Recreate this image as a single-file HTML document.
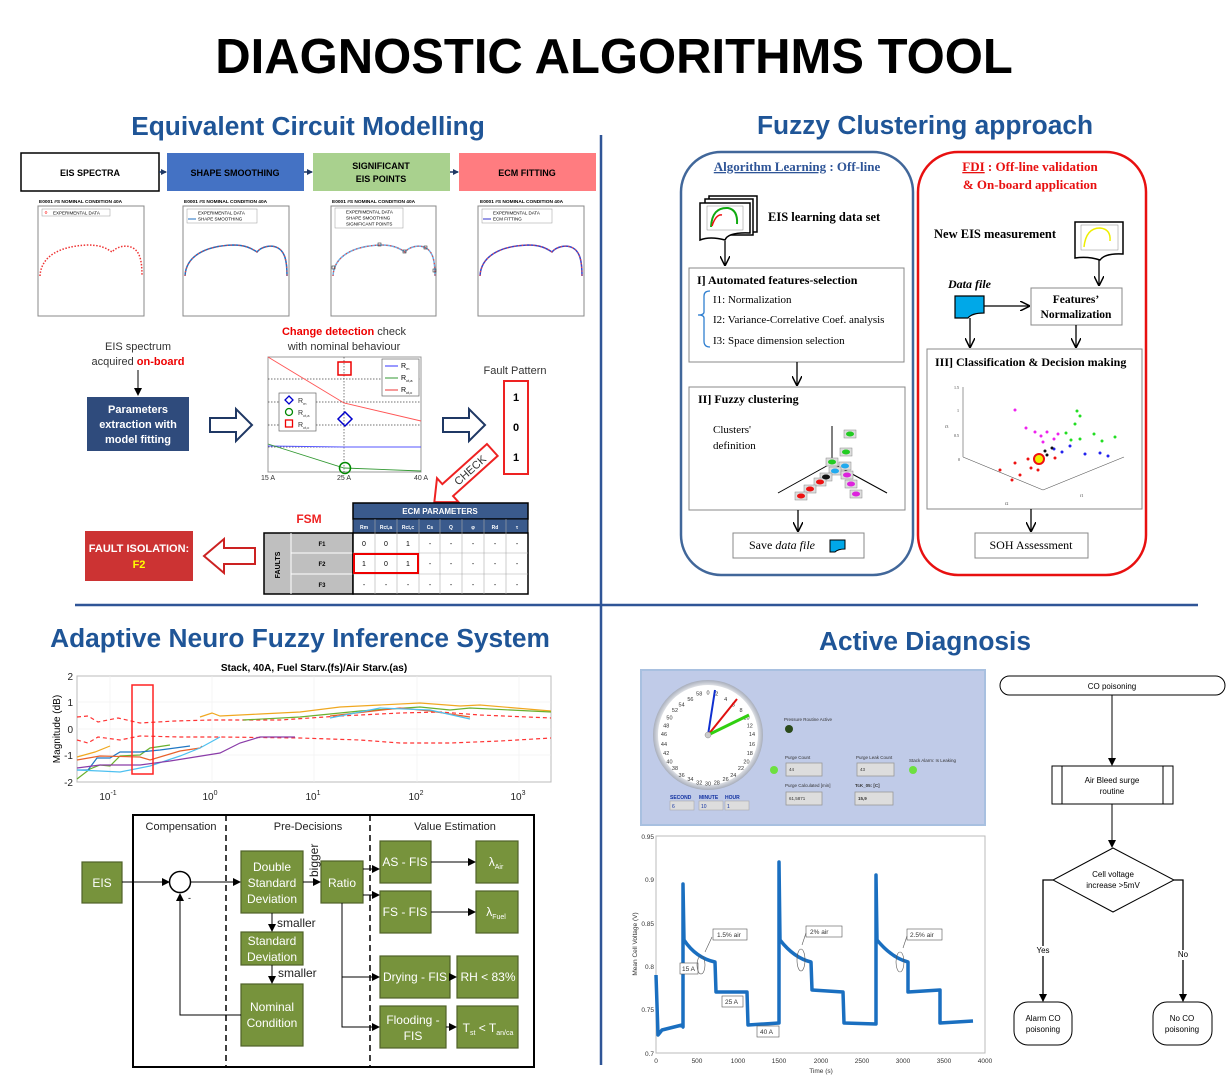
<!DOCTYPE html>
<html><head><meta charset="utf-8"><style>
html,body{margin:0;padding:0;background:#fff;}
svg{display:block;font-family:"Liberation Sans",sans-serif;}
.ser{font-family:"Liberation Serif",serif;}
</style></head><body>
<svg width="1228" height="1083" viewBox="0 0 1228 1083" xmlns="http://www.w3.org/2000/svg">
<defs>
<marker id="ar" markerWidth="8" markerHeight="8" refX="7" refY="4" orient="auto" markerUnits="userSpaceOnUse"><path d="M0,0 L8,4 L0,8 z" fill="#000"/></marker>
<marker id="ar2" markerWidth="10" markerHeight="10" refX="9" refY="5" orient="auto" markerUnits="userSpaceOnUse"><path d="M0,0 L10,5 L0,10" fill="none" stroke="#000" stroke-width="1.5"/></marker>
<marker id="arb" markerWidth="6" markerHeight="6" refX="5" refY="3" orient="auto" markerUnits="userSpaceOnUse"><path d="M0,0 L6,3 L0,6 z" fill="#1f3864"/></marker>
<radialGradient id="cg" cx="0.5" cy="0.5" r="0.5"><stop offset="0.85" stop-color="#fff"/><stop offset="1" stop-color="#a8aebb"/></radialGradient>
</defs>

<!-- Title -->
<text x="614" y="73" text-anchor="middle" font-size="49" font-weight="bold">DIAGNOSTIC ALGORITHMS TOOL</text>
<text x="308" y="135" text-anchor="middle" font-size="26.3" font-weight="bold" fill="#1f5597">Equivalent Circuit Modelling</text>
<text x="925" y="134" text-anchor="middle" font-size="26.3" font-weight="bold" fill="#1f5597">Fuzzy Clustering approach</text>
<text x="300" y="647" text-anchor="middle" font-size="26.3" font-weight="bold" fill="#1f5597">Adaptive Neuro Fuzzy Inference System</text>
<text x="925" y="650" text-anchor="middle" font-size="26.3" font-weight="bold" fill="#1f5597">Active Diagnosis</text>

<line x1="601" y1="135" x2="601" y2="1065" stroke="#2f5597" stroke-width="2.5"/>
<line x1="75" y1="605" x2="1198" y2="605" stroke="#2f5597" stroke-width="2.5"/>

<!-- ECM top row -->
<rect x="21" y="153" width="138" height="38" fill="#fff" stroke="#000" stroke-width="1.5"/>
<text x="90" y="176" text-anchor="middle" font-size="9" font-weight="bold">EIS SPECTRA</text>
<rect x="167" y="153" width="137" height="38" fill="#4472c4"/>
<text x="235" y="176" text-anchor="middle" font-size="9" font-weight="bold">SHAPE SMOOTHING</text>
<rect x="313" y="153" width="137" height="38" fill="#a9d18e"/>
<text x="381" y="169" text-anchor="middle" font-size="9" font-weight="bold">SIGNIFICANT</text>
<text x="381" y="182" text-anchor="middle" font-size="9" font-weight="bold">EIS POINTS</text>
<rect x="459" y="153" width="137" height="38" fill="#ff7c80"/>
<text x="527" y="176" text-anchor="middle" font-size="9" font-weight="bold">ECM FITTING</text>
<line x1="159" y1="172" x2="166" y2="172" stroke="#1f3864" stroke-width="1.5" marker-end="url(#arb)"/>
<line x1="304" y1="172" x2="312" y2="172" stroke="#1f3864" stroke-width="1.5" marker-end="url(#arb)"/>
<line x1="450" y1="172" x2="458" y2="172" stroke="#1f3864" stroke-width="1.5" marker-end="url(#arb)"/>

<!-- small plots -->
<g font-size="4.8" font-weight="bold">
<text x="39" y="203">E0001 #S NOMINAL CONDITION 40A</text>
<text x="184" y="203">E0001 #S NOMINAL CONDITION 40A</text>
<text x="332" y="203">E0001 #S NOMINAL CONDITION 40A</text>
<text x="480" y="203">E0001 #S NOMINAL CONDITION 40A</text>
</g>
<g transform="translate(38,206)">
<rect width="106" height="110" fill="#fff" stroke="#888"/>
<rect x="4" y="3" width="68" height="7" fill="#fff" stroke="#999" stroke-width="0.5"/><text x="15" y="8.5" font-size="4.5">EXPERIMENTAL DATA</text><circle cx="8" cy="6.5" r="1" fill="none" stroke="red" stroke-width="0.5"/>
<path d="M2,70 C3,50 22,40 50,39 C62,39 68,42 74,46 C78,41 88,38 95,42 C102,46 104,55 104,70" fill="none" stroke="#e33" stroke-width="1.5" stroke-dasharray="1.5 1.6"/>
</g>
<g transform="translate(183,206)">
<rect width="106" height="110" fill="#fff" stroke="#888"/>
<rect x="4" y="3" width="70" height="14" fill="#fff" stroke="#999" stroke-width="0.5"/><text x="15" y="8.5" font-size="4.5">EXPERIMENTAL DATA</text><text x="15" y="14.5" font-size="4.5">SHAPE SMOOTHING</text><line x1="5" y1="13" x2="13" y2="13" stroke="#1f6fc0"/>
<path d="M2,70 C3,50 22,40 50,39 C62,39 68,42 74,46 C78,41 88,38 95,42 C102,46 104,55 104,70" fill="none" stroke="#1f6fc0" stroke-width="1.5"/>
<path d="M2,70 C3,50 22,40 50,39 C62,39 68,42 74,46 C78,41 88,38 95,42 C102,46 104,55 104,70" fill="none" stroke="#e44" stroke-width="1.2" stroke-dasharray="1.3 2.5"/>
</g>
<g transform="translate(331,206)">
<rect width="105" height="110" fill="#fff" stroke="#888"/>
<rect x="4" y="2" width="68" height="20" fill="#fff" stroke="#999" stroke-width="0.5"/><text x="15" y="7.5" font-size="4.5">EXPERIMENTAL DATA</text><text x="15" y="13.5" font-size="4.5">SHAPE SMOOTHING</text><text x="15" y="19.5" font-size="4.5">SIGNIFICANT POINTS</text>
<path d="M2,70 C3,50 22,40 50,39 C62,39 68,42 74,46 C78,41 88,38 95,42 C102,46 104,55 104,70" fill="none" stroke="#6ab0e8" stroke-width="1.5"/>
<path d="M2,70 C3,50 22,40 50,39 C62,39 68,42 74,46 C78,41 88,38 95,42 C102,46 104,55 104,70" fill="none" stroke="#e44" stroke-width="1.2" stroke-dasharray="1.3 2.5"/>
<g fill="none" stroke="#333" stroke-width="0.6"><rect x="1" y="60" width="3" height="3"/><rect x="47" y="37" width="3" height="3"/><rect x="72" y="44" width="3" height="3"/><rect x="93" y="40" width="3" height="3"/><rect x="102" y="63" width="3" height="3"/></g>
</g>
<g transform="translate(478,206)">
<rect width="106" height="110" fill="#fff" stroke="#888"/>
<rect x="4" y="3" width="70" height="14" fill="#fff" stroke="#999" stroke-width="0.5"/><text x="15" y="8.5" font-size="4.5">EXPERIMENTAL DATA</text><text x="15" y="14.5" font-size="4.5">ECM FITTING</text><line x1="5" y1="13" x2="13" y2="13" stroke="#33c"/>
<path d="M2,70 C3,50 22,40 50,39 C62,39 68,42 74,46 C78,41 88,38 95,42 C102,46 104,55 104,70" fill="none" stroke="#3344cc" stroke-width="1.5"/>
<path d="M2,70 C3,50 22,40 50,39 C62,39 68,42 74,46 C78,41 88,38 95,42 C102,46 104,55 104,70" fill="none" stroke="#e44" stroke-width="1.2" stroke-dasharray="1.3 2.5"/>
</g>

<!-- middle ECM -->
<text x="138" y="350" text-anchor="middle" font-size="11" fill="#333">EIS spectrum</text>
<text x="138" y="365" text-anchor="middle" font-size="11" fill="#333">acquired <tspan fill="#e00" font-weight="bold">on-board</tspan></text>
<line x1="138" y1="370" x2="138" y2="395" stroke="#000" marker-end="url(#ar)"/>
<rect x="87" y="397" width="102" height="54" fill="#2f4b7c"/>
<text x="138" y="413" text-anchor="middle" font-size="11" font-weight="bold" fill="#fff">Parameters</text>
<text x="138" y="428" text-anchor="middle" font-size="11" font-weight="bold" fill="#fff">extraction with</text>
<text x="138" y="443" text-anchor="middle" font-size="11" font-weight="bold" fill="#fff">model fitting</text>
<path d="M210,418 L236,418 L236,409 L252,425 L236,441 L236,432 L210,432 Z" fill="#fff" stroke="#1f3864" stroke-width="2"/>
<path d="M443,418 L469,418 L469,409 L485,425 L469,441 L469,432 L443,432 Z" fill="#fff" stroke="#1f3864" stroke-width="2"/>

<text x="344" y="335" text-anchor="middle" font-size="11"><tspan fill="#e00" font-weight="bold">Change detection</tspan> <tspan fill="#333">check</tspan></text>
<text x="344" y="350" text-anchor="middle" font-size="11" fill="#333">with nominal behaviour</text>
<rect x="268" y="357" width="153" height="115" fill="#fff" stroke="#999"/>
<g stroke="#444" stroke-dasharray="1.5 1.5" stroke-width="0.7"><line x1="268" y1="379" x2="421" y2="379"/><line x1="268" y1="402" x2="421" y2="402"/><line x1="268" y1="425" x2="421" y2="425"/><line x1="268" y1="447" x2="421" y2="447"/><line x1="344" y1="357" x2="344" y2="472"/></g>
<polyline points="268,357 344,403 421,421" fill="none" stroke="#f55" stroke-width="0.9"/>
<polyline points="268,446 344,447 421,447" fill="none" stroke="#55f" stroke-width="0.9"/>
<polyline points="268,444 344,468 421,471" fill="none" stroke="#393" stroke-width="0.9"/>
<rect x="338" y="362" width="13" height="13" fill="none" stroke="#e00" stroke-width="1.5"/>
<path d="M345,412 L352,419 L345,426 L338,419 Z" fill="none" stroke="#00c" stroke-width="1.5"/>
<circle cx="345" cy="468" r="5.5" fill="none" stroke="#080" stroke-width="1.5"/>
<rect x="382" y="359" width="37" height="37" fill="#fff" stroke="#666" stroke-width="0.7"/>
<g font-size="7"><line x1="385" y1="366" x2="398" y2="366" stroke="#33f"/><text x="401" y="368">R<tspan font-size="4" dy="2">m</tspan></text>
<line x1="385" y1="378" x2="398" y2="378" stroke="#393"/><text x="401" y="380">R<tspan font-size="4" dy="2">ct,a</tspan></text>
<line x1="385" y1="390" x2="398" y2="390" stroke="#e33"/><text x="401" y="392">R<tspan font-size="4" dy="2">ct,c</tspan></text></g>
<rect x="279" y="393" width="37" height="38" fill="#fff" stroke="#666" stroke-width="0.7"/>
<path d="M289,396 L293,400 L289,404 L285,400 Z" fill="none" stroke="#00c" stroke-width="1.3"/>
<circle cx="289" cy="412" r="3.5" fill="none" stroke="#080" stroke-width="1.3"/>
<rect x="285.5" y="420" width="7" height="7" fill="none" stroke="#e00" stroke-width="1.3"/>
<g font-size="7" fill="#333"><text x="298" y="403">R<tspan font-size="4" dy="2">m</tspan></text><text x="298" y="415">R<tspan font-size="4" dy="2">ct,a</tspan></text><text x="298" y="427">R<tspan font-size="4" dy="2">ct,c</tspan></text></g>
<g font-size="7" fill="#333" text-anchor="middle"><text x="268" y="480">15 A</text><text x="344" y="480">25 A</text><text x="421" y="480">40 A</text></g>

<text x="515" y="374" text-anchor="middle" font-size="11" fill="#333">Fault Pattern</text>
<rect x="504" y="381" width="24" height="93" fill="#fff" stroke="#e22" stroke-width="2"/>
<g font-size="11" font-weight="bold" text-anchor="middle"><text x="516" y="401">1</text><text x="516" y="431">0</text><text x="516" y="461">1</text></g>
<g transform="translate(470,470) rotate(-42)">
<path d="M-30,-8 L30,-8 L30,8 L-30,8 L-30,16 L-48,0 L-30,-16 Z" fill="#fff" stroke="#e22" stroke-width="2"/>
<text x="0" y="4" text-anchor="middle" font-size="11" fill="#333">CHECK</text>
</g>

<!-- FSM table -->
<text x="309" y="523" font-size="12" font-weight="bold" fill="#e22" text-anchor="middle">FSM</text>
<rect x="353" y="503" width="175" height="16" fill="#3a5a8c" stroke="#000" stroke-width="1.5"/>
<text x="440" y="514" text-anchor="middle" font-size="8" font-weight="bold" fill="#fff">ECM PARAMETERS</text>
<rect x="353" y="519" width="175" height="14" fill="#3a5a8c" stroke="#000"/>
<rect x="264" y="533" width="89" height="61" fill="#bfbfbf" stroke="#000" stroke-width="1.5"/>
<line x1="291" y1="533" x2="291" y2="594" stroke="#fff"/>
<line x1="291" y1="553" x2="353" y2="553" stroke="#fff"/><line x1="291" y1="574" x2="353" y2="574" stroke="#fff"/>
<text transform="translate(280,565) rotate(-90)" text-anchor="middle" font-size="7" font-weight="bold">FAULTS</text>
<g font-size="6" font-weight="bold" text-anchor="middle"><text x="322" y="546">F1</text><text x="322" y="566">F2</text><text x="322" y="587">F3</text></g>
<rect x="353" y="533" width="175" height="61" fill="#fff" stroke="#000" stroke-width="1.5"/>
<g stroke="#aaa" stroke-width="0.6"><line x1="353" y1="553" x2="528" y2="553"/><line x1="353" y1="574" x2="528" y2="574"/>
<line x1="375" y1="519" x2="375" y2="594"/><line x1="397" y1="519" x2="397" y2="594"/><line x1="419" y1="519" x2="419" y2="594"/><line x1="440" y1="519" x2="440" y2="594"/><line x1="462" y1="519" x2="462" y2="594"/><line x1="484" y1="519" x2="484" y2="594"/><line x1="506" y1="519" x2="506" y2="594"/></g>
<g font-size="5" fill="#fff" font-weight="bold" text-anchor="middle"><text x="364" y="529">Rm</text><text x="386" y="529">Rct,a</text><text x="408" y="529">Rct,c</text><text x="430" y="529">Cs</text><text x="451" y="529">Q</text><text x="473" y="529">φ</text><text x="495" y="529">Rd</text><text x="517" y="529">τ</text></g>
<g font-size="7" text-anchor="middle">
<text x="364" y="546">0</text><text x="386" y="546">0</text><text x="408" y="546">1</text><text x="430" y="546">-</text><text x="451" y="546">-</text><text x="473" y="546">-</text><text x="495" y="546">-</text><text x="517" y="546">-</text>
<text x="364" y="566">1</text><text x="386" y="566">0</text><text x="408" y="566">1</text><text x="430" y="566">-</text><text x="451" y="566">-</text><text x="473" y="566">-</text><text x="495" y="566">-</text><text x="517" y="566">-</text>
<text x="364" y="587">-</text><text x="386" y="587">-</text><text x="408" y="587">-</text><text x="430" y="587">-</text><text x="451" y="587">-</text><text x="473" y="587">-</text><text x="495" y="587">-</text><text x="517" y="587">-</text></g>
<rect x="354" y="554" width="64" height="19" fill="none" stroke="#e00" stroke-width="2"/>
<rect x="85" y="531" width="108" height="50" fill="#cc3333"/>
<text x="139" y="552" text-anchor="middle" font-size="11" font-weight="bold" fill="#fff">FAULT ISOLATION:</text>
<text x="139" y="568" text-anchor="middle" font-size="11" font-weight="bold" fill="#ff0">F2</text>
<path d="M255,548 L224,548 L224,539 L204,556 L224,573 L224,564 L255,564 Z" fill="#fff" stroke="#c22" stroke-width="2"/>

<!-- Fuzzy panels -->
<g class="ser">
<rect x="681" y="152" width="232" height="423" rx="40" fill="#fff" stroke="#41679a" stroke-width="2.5"/>
<rect x="918" y="152" width="228" height="423" rx="40" fill="#fff" stroke="#e81010" stroke-width="2.5"/>
<text x="797" y="171" text-anchor="middle" font-size="13" font-weight="bold" fill="#2f5597"><tspan text-decoration="underline">Algorithm Learning</tspan> : Off-line</text>
<text x="1030" y="171" text-anchor="middle" font-size="13" font-weight="bold" fill="#e81010"><tspan text-decoration="underline">FDI</tspan> : Off-line validation</text>
<text x="1030" y="189" text-anchor="middle" font-size="13" font-weight="bold" fill="#e81010">&amp; On-board application</text>
<rect x="709" y="196" width="48" height="36" fill="#fff" stroke="#000" stroke-width="1.5"/>
<rect x="705" y="199" width="48" height="36" fill="#fff" stroke="#000" stroke-width="1.5"/>
<path d="M700,203 L750,203 L750,233 Q728,232 725,240 Q710,236 700,240 Z" fill="#fff" stroke="#000" stroke-width="1.5"/>
<rect x="707" y="206" width="36" height="24" fill="#fff" stroke="#888" stroke-width="0.5"/>
<path d="M711,227 Q712,207 728,208 Q738,210 737,224" fill="none" stroke="#1a1" stroke-width="2"/>
<path d="M712,226 Q716,214 722,215" fill="none" stroke="#e11" stroke-width="1.5"/>
<text x="768" y="221" font-size="12.5" font-weight="bold">EIS learning data set</text>
<line x1="725" y1="241" x2="725" y2="265" stroke="#000" stroke-width="1.3" marker-end="url(#ar2)"/>
<rect x="689" y="268" width="215" height="94" fill="#fff" stroke="#888"/>
<text x="697" y="284" font-size="12" font-weight="bold">I] Automated features-selection</text>
<path d="M710,291 Q704,291 704,296 L704,312 Q704,315 698,315 Q704,315 704,318 L704,341 Q704,347 710,347" fill="none" stroke="#2f7fd0" stroke-width="1.3"/>
<g font-size="11"><text x="713" y="303">I1: Normalization</text><text x="713" y="323">I2: Variance-Correlative Coef. analysis</text><text x="713" y="344">I3: Space dimension selection</text></g>
<line x1="797" y1="362" x2="797" y2="385" stroke="#000" stroke-width="1.3" marker-end="url(#ar2)"/>
<rect x="689" y="387" width="216" height="123" fill="#fff" stroke="#888"/>
<text x="698" y="403" font-size="12" font-weight="bold">II] Fuzzy clustering</text>
<text x="713" y="433" font-size="11">Clusters'</text><text x="713" y="449" font-size="11">definition</text>
<line x1="832" y1="426" x2="832" y2="463" stroke="#000"/>
<line x1="778" y1="493" x2="832" y2="463" stroke="#000"/><line x1="832" y1="463" x2="887" y2="493" stroke="#000"/>
<g stroke="#888" stroke-width="0.5" fill="#ddd">
<rect x="844" y="430" width="12" height="8"/><rect x="840" y="448" width="12" height="8"/><rect x="826" y="458" width="12" height="8"/><rect x="839" y="462" width="12" height="8"/><rect x="829" y="467" width="12" height="8"/><rect x="820" y="473" width="12" height="8"/><rect x="841" y="471" width="12" height="8"/><rect x="814" y="478" width="12" height="8"/><rect x="845" y="480" width="12" height="8"/><rect x="804" y="485" width="12" height="8"/><rect x="850" y="490" width="12" height="8"/><rect x="795" y="492" width="12" height="8"/></g>
<g><ellipse cx="850" cy="434" rx="4" ry="2.5" fill="#2c2"/><ellipse cx="846" cy="452" rx="4" ry="2.5" fill="#2c2"/><ellipse cx="832" cy="462" rx="4" ry="2.5" fill="#2c2"/><ellipse cx="845" cy="466" rx="4" ry="2.5" fill="#2ae"/><ellipse cx="835" cy="471" rx="4" ry="2.5" fill="#2ae"/><ellipse cx="826" cy="477" rx="4" ry="2.5" fill="#111"/><ellipse cx="847" cy="475" rx="4" ry="2.5" fill="#d2d"/><ellipse cx="820" cy="482" rx="4" ry="2.5" fill="#e11"/><ellipse cx="851" cy="484" rx="4" ry="2.5" fill="#d2d"/><ellipse cx="810" cy="489" rx="4" ry="2.5" fill="#e11"/><ellipse cx="856" cy="494" rx="4" ry="2.5" fill="#d2d"/><ellipse cx="801" cy="496" rx="4" ry="2.5" fill="#e11"/></g>
<line x1="798" y1="510" x2="798" y2="531" stroke="#000" stroke-width="1.3" marker-end="url(#ar2)"/>
<rect x="733" y="533" width="131" height="25" fill="#fff" stroke="#888"/>
<text x="749" y="549" font-size="12">Save <tspan font-style="italic">data file</tspan></text>
<path d="M830,540 L845,540 L845,549 Q838,549 835,552 L830,552 Z" fill="#00a8e8" stroke="#000"/>

<text x="934" y="238" font-size="12.5" font-weight="bold">New EIS measurement</text>
<path d="M1075,222 L1123,222 L1123,254 Q1105,253 1100,260 Q1088,256 1075,258 Z" fill="#fff" stroke="#000" stroke-width="1.5"/>
<rect x="1081" y="225" width="37" height="25" fill="#fff" stroke="#888" stroke-width="0.5"/>
<path d="M1084,247 Q1086,228 1100,228 Q1111,229 1110,241" fill="none" stroke="#ee0" stroke-width="1.5"/>
<line x1="1099" y1="259" x2="1099" y2="285" stroke="#000" stroke-width="1.3" marker-end="url(#ar2)"/>
<text x="948" y="288" font-size="12" font-weight="bold" font-style="italic">Data file</text>
<path d="M955,296 L984,296 L984,313 Q972,313 968,318 L955,318 Z" fill="#00a8e8" stroke="#000" stroke-width="1.2"/>
<line x1="984" y1="306" x2="1029" y2="306" stroke="#000" stroke-width="1.3" marker-end="url(#ar2)"/>
<rect x="1031" y="288" width="91" height="37" fill="#fff" stroke="#888"/>
<text x="1076" y="303" text-anchor="middle" font-size="11.5" font-weight="bold">Features’</text>
<text x="1076" y="318" text-anchor="middle" font-size="11.5" font-weight="bold">Normalization</text>
<line x1="970" y1="318" x2="970" y2="347" stroke="#000" stroke-width="1.3" marker-end="url(#ar2)"/>
<line x1="1076" y1="325" x2="1076" y2="347" stroke="#000" stroke-width="1.3" marker-end="url(#ar2)"/>
<rect x="927" y="349" width="215" height="160" fill="#fff" stroke="#888"/>
<text x="935" y="366" font-size="12" font-weight="bold">III] Classification &amp; Decision making</text>
<g stroke="#555" stroke-width="0.6" fill="none"><line x1="963" y1="387" x2="963" y2="457"/><line x1="963" y1="457" x2="1043" y2="490"/><line x1="1043" y1="490" x2="1124" y2="457"/></g>
<g font-size="4" fill="#333"><text x="954" y="389">1.5</text><text x="957" y="412">1</text><text x="954" y="437">0.5</text><text x="958" y="461">0</text><text x="945" y="428">f3</text><text x="1005" y="505">f2</text><text x="1080" y="497">f1</text></g>
<g>
<circle cx="1015" cy="410" r="1.5" fill="#e2e"/><circle cx="1026" cy="428" r="1.5" fill="#e2e"/><circle cx="1035" cy="432" r="1.5" fill="#e2e"/><circle cx="1041" cy="436" r="1.5" fill="#e2e"/><circle cx="1047" cy="432" r="1.5" fill="#e2e"/><circle cx="1054" cy="439" r="1.5" fill="#e2e"/><circle cx="1043" cy="442" r="1.5" fill="#e2e"/><circle cx="1058" cy="434" r="1.5" fill="#e2e"/>
<circle cx="1077" cy="411" r="1.5" fill="#2d2"/><circle cx="1080" cy="416" r="1.5" fill="#2d2"/><circle cx="1075" cy="424" r="1.5" fill="#2d2"/><circle cx="1066" cy="433" r="1.5" fill="#2d2"/><circle cx="1080" cy="439" r="1.5" fill="#2d2"/><circle cx="1094" cy="434" r="1.5" fill="#2d2"/><circle cx="1102" cy="441" r="1.5" fill="#2d2"/><circle cx="1115" cy="437" r="1.5" fill="#2d2"/><circle cx="1071" cy="440" r="1.5" fill="#2d2"/>
<circle cx="1054" cy="449" r="1.5" fill="#22e"/><circle cx="1062" cy="452" r="1.5" fill="#22e"/><circle cx="1070" cy="446" r="1.5" fill="#22e"/><circle cx="1085" cy="454" r="1.5" fill="#22e"/><circle cx="1100" cy="453" r="1.5" fill="#22e"/><circle cx="1108" cy="456" r="1.5" fill="#22e"/>
<circle cx="1045" cy="451" r="1.5" fill="#111"/><circle cx="1052" cy="448" r="1.5" fill="#111"/><circle cx="1047" cy="455" r="1.5" fill="#111"/>
<circle cx="1000" cy="470" r="1.5" fill="#e11"/><circle cx="1015" cy="463" r="1.5" fill="#e11"/><circle cx="1020" cy="475" r="1.5" fill="#e11"/><circle cx="1028" cy="459" r="1.5" fill="#e11"/><circle cx="1031" cy="468" r="1.5" fill="#e11"/><circle cx="1042" cy="462" r="1.5" fill="#e11"/><circle cx="1055" cy="458" r="1.5" fill="#e11"/><circle cx="1012" cy="480" r="1.5" fill="#e11"/><circle cx="1038" cy="470" r="1.5" fill="#e11"/>
<circle cx="1039" cy="459" r="5" fill="#ee0" stroke="#e11" stroke-width="2"/></g>
<line x1="1031" y1="509" x2="1031" y2="531" stroke="#000" stroke-width="1.3" marker-end="url(#ar2)"/>
<rect x="975" y="533" width="113" height="25" fill="#fff" stroke="#888"/>
<text x="1031" y="549" text-anchor="middle" font-size="12">SOH Assessment</text>
</g>

<!-- ANFIS chart -->
<text x="314" y="671" text-anchor="middle" font-size="10" font-weight="bold">Stack, 40A, Fuel Starv.(fs)/Air Starv.(as)</text>
<rect x="77" y="676" width="474" height="106" fill="#fff" stroke="#bbb"/>
<g stroke="#eee" stroke-width="0.6"><line x1="110" y1="676" x2="110" y2="782"/><line x1="212" y1="676" x2="212" y2="782"/><line x1="314" y1="676" x2="314" y2="782"/><line x1="417" y1="676" x2="417" y2="782"/><line x1="519" y1="676" x2="519" y2="782"/><line x1="77" y1="702" x2="551" y2="702"/><line x1="77" y1="729" x2="551" y2="729"/><line x1="77" y1="755" x2="551" y2="755"/></g>
<g font-size="10" text-anchor="end" fill="#222"><text x="73" y="680">2</text><text x="73" y="706">1</text><text x="73" y="733">0</text><text x="73" y="759">-1</text><text x="73" y="786">-2</text></g>
<g font-size="10" fill="#222" text-anchor="middle"><text x="108" y="800">10<tspan font-size="7" dy="-5">-1</tspan></text><text x="210" y="800">10<tspan font-size="7" dy="-5">0</tspan></text><text x="313" y="800">10<tspan font-size="7" dy="-5">1</tspan></text><text x="416" y="800">10<tspan font-size="7" dy="-5">2</tspan></text><text x="518" y="800">10<tspan font-size="7" dy="-5">3</tspan></text></g>
<text transform="translate(60,729) rotate(-90)" text-anchor="middle" font-size="10">Magnitude (dB)</text>
<g fill="none" stroke-width="1.2">
<polyline stroke="#f33" stroke-dasharray="4 3" points="77,717 88,716 98,722 118,718 140,723 175,721 212,720 280,720 340,716 400,713 440,712 480,715 551,718"/>
<polyline stroke="#f33" stroke-dasharray="4 3" points="77,740 88,743 98,737 120,740 140,736 180,737 220,737 300,738 360,740 400,743 450,743 500,741 551,738"/>
<polyline stroke="#f0a820" points="77,757 95,752 110,746"/>
<polyline stroke="#f0a820" points="200,717 212,713 220,716 260,714 300,712 340,707 380,705 420,703 460,706 480,705 551,711"/>
<polyline stroke="#6ab02e" points="77,779 90,769 100,765 110,766 120,756 140,755 150,748 170,745"/>
<polyline stroke="#6ab02e" points="243,720 300,717 360,711 420,707 450,710 470,708 551,712"/>
<polyline stroke="#1f77c4" points="77,770 88,770 97,758 110,758 120,752 140,752 160,750 190,746"/>
<polyline stroke="#e8602a" points="77,760 100,756 140,757 150,760 180,751 200,748 202,746"/>
<polyline stroke="#e8602a" points="330,716 400,708 430,711 470,717"/>
<polyline stroke="#4dc0f0" points="77,770 100,771 120,772 150,766 180,756 200,748 220,737"/>
<polyline stroke="#4dc0f0" points="330,718 380,708 430,710 470,719"/>
<polyline stroke="#8a3ca8" points="77,768 100,765 140,765 170,761 220,753 240,743 260,737 295,737"/>
</g>
<rect x="132" y="685" width="21" height="89" fill="none" stroke="#f22" stroke-width="1.5"/>

<!-- ANFIS block -->
<rect x="133" y="815" width="401" height="252" fill="#fff" stroke="#000" stroke-width="2"/>
<line x1="226" y1="815" x2="226" y2="1067" stroke="#000" stroke-width="1.5" stroke-dasharray="6 4"/>
<line x1="370" y1="815" x2="370" y2="1067" stroke="#000" stroke-width="1.5" stroke-dasharray="6 4"/>
<g font-size="11" fill="#222" text-anchor="middle"><text x="181" y="830">Compensation</text><text x="308" y="830">Pre-Decisions</text><text x="455" y="830">Value Estimation</text></g>
<g fill="#77933c" stroke="#4f6228" stroke-width="1.2">
<rect x="82" y="862" width="40" height="41"/><rect x="241" y="851" width="62" height="62"/><rect x="241" y="932" width="62" height="33"/><rect x="241" y="984" width="62" height="62"/><rect x="321" y="861" width="42" height="42"/>
<rect x="380" y="841" width="51" height="42"/><rect x="476" y="841" width="42" height="42"/><rect x="380" y="891" width="51" height="42"/><rect x="476" y="891" width="42" height="42"/>
<rect x="380" y="956" width="70" height="42"/><rect x="457" y="956" width="61" height="42"/><rect x="380" y="1006" width="66" height="42"/><rect x="457" y="1006" width="61" height="42"/></g>
<g font-size="12" fill="#fff" text-anchor="middle">
<text x="102" y="887">EIS</text>
<text x="272" y="871">Double</text><text x="272" y="887">Standard</text><text x="272" y="903">Deviation</text>
<text x="272" y="945">Standard</text><text x="272" y="961">Deviation</text>
<text x="272" y="1011">Nominal</text><text x="272" y="1027">Condition</text>
<text x="342" y="887">Ratio</text>
<text x="405" y="866">AS - FIS</text><text x="405" y="916">FS - FIS</text>
<text x="496" y="866">λ<tspan font-size="7" dy="3">Air</tspan></text><text x="496" y="916">λ<tspan font-size="7" dy="3">Fuel</tspan></text>
<text x="415" y="981">Drying - FIS</text><text x="488" y="981">RH &lt; 83%</text>
<text x="413" y="1024">Flooding -</text><text x="413" y="1040">FIS</text>
<text x="488" y="1032">T<tspan font-size="7" dy="3">st</tspan><tspan dy="-3"> &lt; T</tspan><tspan font-size="7" dy="3">an/ca</tspan></text></g>
<circle cx="180" cy="882" r="10.5" fill="#fff" stroke="#000" stroke-width="1.5"/>
<g stroke="#000" stroke-width="1" fill="none">
<line x1="122" y1="882" x2="169" y2="882" marker-end="url(#ar)"/>
<line x1="191" y1="882" x2="240" y2="882" marker-end="url(#ar)"/>
<line x1="303" y1="882" x2="320" y2="882" marker-end="url(#ar)"/>
<line x1="272" y1="913" x2="272" y2="931" marker-end="url(#ar)"/>
<line x1="272" y1="965" x2="272" y2="983" marker-end="url(#ar)"/>
<polyline points="241,1015 180,1015 180,894" marker-end="url(#ar)"/>
<line x1="363" y1="869" x2="379" y2="869" marker-end="url(#ar)"/>
<line x1="363" y1="895" x2="379" y2="895" marker-end="url(#ar)"/>
<polyline points="342,903 342,977 379,977" marker-end="url(#ar)"/>
<polyline points="342,977 342,1027 379,1027" marker-end="url(#ar)"/>
<line x1="431" y1="862" x2="475" y2="862" marker-end="url(#ar)"/>
<line x1="431" y1="912" x2="475" y2="912" marker-end="url(#ar)"/>
<line x1="450" y1="977" x2="456" y2="977" marker-end="url(#ar)"/>
<line x1="446" y1="1027" x2="456" y2="1027" marker-end="url(#ar)"/></g>
<text x="188" y="901" font-size="9">-</text>
<g font-size="12" fill="#222"><text x="277" y="927">smaller</text><text x="278" y="977">smaller</text>
<text transform="translate(318,877) rotate(-90)">bigger</text></g>

<!-- Active diagnosis panel -->
<rect x="641" y="670" width="344" height="155" fill="#c0cbe8" stroke="#a8c0e0" stroke-width="2"/>
<circle cx="708" cy="735" r="55" fill="url(#cg)"/>
<circle cx="708" cy="735" r="50" fill="#fff"/>
<g transform="translate(708,735) scale(1.1) translate(-699,-735)">
<g font-size="5" text-anchor="middle" fill="#333">
<text x="699" y="698">0</text><text x="707" y="699">2</text><text x="715" y="704">4</text><text x="722" y="709">6</text><text x="729" y="714">8</text><text x="734" y="721">10</text><text x="737" y="728">12</text><text x="739" y="736">14</text><text x="739" y="745">16</text><text x="737" y="753">18</text><text x="734" y="761">20</text><text x="729" y="767">22</text><text x="722" y="773">24</text><text x="715" y="777">26</text><text x="707" y="780">28</text><text x="699" y="781">30</text><text x="691" y="780">32</text><text x="683" y="777">34</text><text x="675" y="773">36</text><text x="669" y="767">38</text><text x="664" y="761">40</text><text x="661" y="753">42</text><text x="659" y="745">44</text><text x="659" y="736">46</text><text x="661" y="728">48</text><text x="664" y="721">50</text><text x="669" y="714">52</text><text x="675" y="709">54</text><text x="683" y="704">56</text><text x="691" y="699">58</text></g></g>
<line x1="708" y1="735" x2="715" y2="690" stroke="#1030d0" stroke-width="2"/>
<line x1="708" y1="735" x2="737" y2="699" stroke="#e01010" stroke-width="2"/>
<line x1="708" y1="735" x2="749" y2="715" stroke="#30d010" stroke-width="3"/>
<circle cx="708" cy="735" r="3" fill="#ccc" stroke="#888" stroke-width="0.5"/>
<g font-size="5" font-weight="bold" fill="#1030a0"><text x="670" y="799">SECOND</text><text x="699" y="799">MINUTE</text><text x="725" y="799">HOUR</text></g>
<g fill="#ddd" stroke="#aaa" stroke-width="0.6"><rect x="670" y="801" width="24" height="9"/><rect x="699" y="801" width="24" height="9"/><rect x="725" y="801" width="24" height="9"/></g>
<g font-size="5" fill="#1030a0"><text x="672" y="808">6</text><text x="701" y="808">10</text><text x="727" y="808">1</text></g>
<g font-size="4.5" fill="#333"><text x="784" y="721">Pressure Routine Active</text><text x="785" y="759">Purge Count</text><text x="856" y="759">Purge Leak Count</text><text x="909" y="762">Stack Alarm: Is Leaking</text><text x="785" y="787">Purge Calculated [min]</text><text x="855" y="787" font-weight="bold">TcK_05: [C]</text></g>
<circle cx="789" cy="729" r="4" fill="#2a4a1a"/>
<circle cx="774" cy="770" r="4" fill="#6de040"/><circle cx="913" cy="770" r="4" fill="#6de040"/>
<g fill="#ddd" stroke="#999" stroke-width="0.8"><rect x="786" y="763" width="36" height="13"/><rect x="857" y="763" width="37" height="13"/><rect x="786" y="792" width="36" height="13"/><rect x="855" y="792" width="38" height="13"/></g>
<g font-size="4.5" fill="#333"><text x="789" y="771">44</text><text x="860" y="771">43</text><text x="789" y="800">61,5871</text><text x="858" y="800" font-weight="bold">15,9</text></g>

<!-- voltage chart -->
<rect x="656" y="836" width="329" height="217" fill="#fff" stroke="#bbb"/>
<g font-size="6.5" fill="#333" text-anchor="end"><text x="654" y="839">0.95</text><text x="654" y="882">0.9</text><text x="654" y="926">0.85</text><text x="654" y="969">0.8</text><text x="654" y="1012">0.75</text><text x="654" y="1056">0.7</text></g>
<g font-size="6.5" fill="#333" text-anchor="middle"><text x="656" y="1063">0</text><text x="697" y="1063">500</text><text x="738" y="1063">1000</text><text x="779" y="1063">1500</text><text x="821" y="1063">2000</text><text x="862" y="1063">2500</text><text x="903" y="1063">3000</text><text x="944" y="1063">3500</text><text x="985" y="1063">4000</text><text x="821" y="1073">Time (s)</text></g>
<text transform="translate(637,944) rotate(-90)" text-anchor="middle" font-size="6.5" fill="#333">Mean Cell Voltage (V)</text>
<path d="M656,975 L658,1035 L662,1030 L682,1025 L683,1027 L683,884 L684,940 Q696,958 715,962 L716,992 L747,992 L748,1025 L779,1023 L779,862 L780,940 Q794,958 811,962 L812,990 L843,992 L844,1023 L876,1024 L876,875 L877,940 Q892,958 908,962 L908,992 L940,990 L940,1023 L973,1021" fill="none" stroke="#1a6fc0" stroke-width="3.5" stroke-linejoin="round"/>
<g fill="#fff" stroke="#555" stroke-width="0.6"><rect x="713" y="929" width="34" height="11"/><rect x="806" y="926" width="36" height="11"/><rect x="907" y="929" width="35" height="11"/><rect x="680" y="963" width="18" height="11"/><rect x="722" y="996" width="21" height="11"/><rect x="757" y="1026" width="22" height="11"/></g>
<g font-size="6.5" fill="#333"><text x="717" y="937">1.5% air</text><text x="810" y="934">2% air</text><text x="910" y="937">2.5% air</text><text x="682" y="971">15 A</text><text x="725" y="1004">25 A</text><text x="760" y="1034">40 A</text></g>
<g fill="none" stroke="#555" stroke-width="0.6"><ellipse cx="701" cy="965" rx="4" ry="9"/><ellipse cx="801" cy="960" rx="4" ry="11"/><ellipse cx="900" cy="962" rx="4" ry="10"/>
<line x1="712" y1="937" x2="705" y2="952"/><line x1="806" y1="933" x2="802" y2="945"/><line x1="907" y1="936" x2="903" y2="948"/></g>

<!-- flowchart -->
<rect x="1000" y="676" width="225" height="19" rx="9.5" fill="#fff" stroke="#000"/>
<text x="1112" y="689" text-anchor="middle" font-size="8">CO poisoning</text>
<line x1="1112" y1="695" x2="1112" y2="765" stroke="#000" marker-end="url(#ar)"/>
<rect x="1052" y="766" width="121" height="38" fill="#fff" stroke="#000"/>
<line x1="1062" y1="766" x2="1062" y2="804" stroke="#000"/><line x1="1163" y1="766" x2="1163" y2="804" stroke="#000"/>
<text x="1112" y="783" text-anchor="middle" font-size="8">Air Bleed surge</text>
<text x="1112" y="794" text-anchor="middle" font-size="8">routine</text>
<line x1="1112" y1="804" x2="1112" y2="847" stroke="#000" marker-end="url(#ar)"/>
<path d="M1113,848 L1174,880 L1113,912 L1053,880 Z" fill="#fff" stroke="#000"/>
<text x="1113" y="877" text-anchor="middle" font-size="8">Cell voltage</text>
<text x="1113" y="888" text-anchor="middle" font-size="8">increase &gt;5mV</text>
<polyline points="1053,880 1043,880 1043,1001" fill="none" stroke="#000" stroke-width="1.3" marker-end="url(#ar)"/>
<polyline points="1174,880 1183,880 1183,1001" fill="none" stroke="#000" stroke-width="1.3" marker-end="url(#ar)"/>
<rect x="1036" y="946" width="14" height="10" fill="#fff"/><text x="1043" y="953" text-anchor="middle" font-size="8">Yes</text>
<rect x="1176" y="950" width="14" height="10" fill="#fff"/><text x="1183" y="957" text-anchor="middle" font-size="8">No</text>
<rect x="1014" y="1002" width="58" height="43" rx="14" fill="#fff" stroke="#000"/>
<rect x="1153" y="1002" width="59" height="43" rx="14" fill="#fff" stroke="#000"/>
<g font-size="8" text-anchor="middle"><text x="1043" y="1021">Alarm CO</text><text x="1043" y="1032">poisoning</text><text x="1182" y="1021">No CO</text><text x="1182" y="1032">poisoning</text></g>
</svg>
</body></html>
